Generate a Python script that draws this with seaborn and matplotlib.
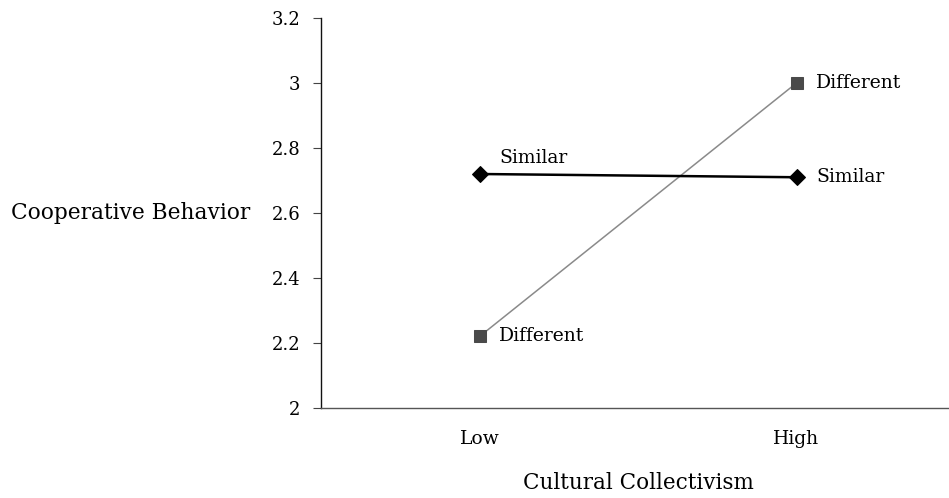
import matplotlib
matplotlib.use("Agg")
import matplotlib.pyplot as plt
import matplotlib.ticker as mticker
import seaborn as sns
import pandas as pd

# data
levels = ["Low", "High"]
similar = [2.72, 2.71]
different = [2.22, 3.00]
yticks = [2, 2.2, 2.4, 2.6, 2.8, 3, 3.2]

sns.set_style("white")
plt.rcParams["font.family"] = ["DejaVu Serif"]
plt.rcParams["text.color"] = "black"
plt.rcParams["axes.labelcolor"] = "black"
plt.rcParams["xtick.labelcolor"] = "black"
plt.rcParams["ytick.labelcolor"] = "black"

fig = plt.figure(figsize=(9.49, 4.98), dpi=100)
ax = fig.add_axes([321 / 949, 90 / 498, 634 / 949, 390 / 498])

df_sim = pd.DataFrame({"level": levels, "value": similar})
df_dif = pd.DataFrame({"level": levels, "value": different})

sns.lineplot(data=df_dif, x="level", y="value", ax=ax, color="#8a8a8a", lw=1.1,
             marker="s", markersize=8.5, markerfacecolor="#4a4a4a", markeredgecolor="#4a4a4a")
sns.lineplot(data=df_sim, x="level", y="value", ax=ax, color="black", lw=1.8,
             marker="D", markersize=8, markerfacecolor="black", markeredgecolor="black")

# point labels
fs_ann = 13.5
ax.annotate("Similar", (0, similar[0]), xytext=(14, 5), textcoords="offset points",
            ha="left", va="bottom", fontsize=fs_ann)
ax.annotate("Similar", (1, similar[1]), xytext=(14, 0), textcoords="offset points",
            ha="left", va="center", fontsize=fs_ann)
ax.annotate("Different", (0, different[0]), xytext=(14, 0), textcoords="offset points",
            ha="left", va="center", fontsize=fs_ann)
ax.annotate("Different", (1, different[1]), xytext=(14, 0), textcoords="offset points",
            ha="left", va="center", fontsize=fs_ann)

ax.set_xlim(-0.5, 1.5)
ax.set_ylim(2, 3.2)
ax.set_yticks(yticks)
ax.yaxis.set_major_formatter(mticker.FuncFormatter(lambda v, p: f"{v:g}"))
ax.set_xticks([0, 1])
ax.set_xticklabels(levels)
ax.xaxis.set_minor_locator(mticker.FixedLocator([-0.5, 0.5]))
ax.tick_params(axis="x", which="major", length=0, pad=16, labelsize=13.5)
ax.tick_params(axis="x", which="minor", length=6, width=0.8, color="#444444")
ax.tick_params(axis="y", length=6, width=0.8, color="#444444", pad=9, labelsize=13,
               left=True)

for s in ["top", "right"]:
    ax.spines[s].set_visible(False)
ax.spines["left"].set_color("#111111")
ax.spines["left"].set_linewidth(1.0)
ax.spines["bottom"].set_color("#555555")
ax.spines["bottom"].set_linewidth(1.0)

ax.set_xlabel("Cultural Collectivism", fontsize=15.5, labelpad=17)
ax.set_ylabel("Cooperative Behavior", fontsize=15.7, rotation=0, ha="right", va="center")
ax.yaxis.set_label_coords(-0.112, (2.6 - 2) / 1.2)

fig.savefig("out.png", dpi=100)
